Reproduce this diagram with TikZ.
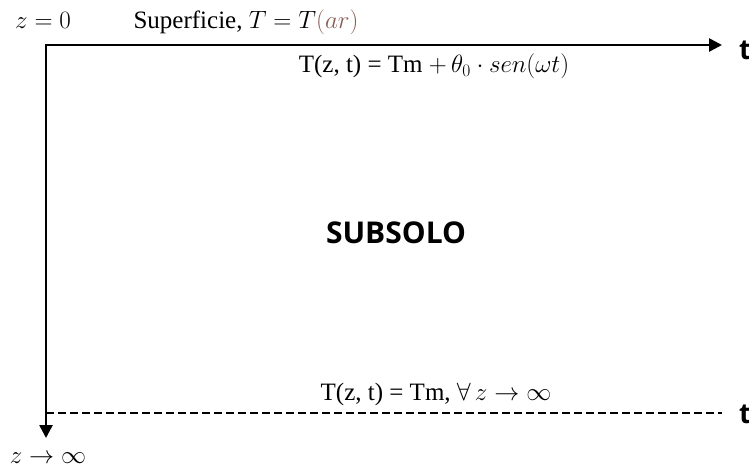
\documentclass[tikz,border=0pt]{standalone}
\usepackage{fix-cm}
\usepackage{fontspec}
\setmainfont{Liberation Serif}
\newfontfamily\boldsans{Open Sans}
\usepackage{tikz}
\usetikzlibrary{arrows.meta, positioning}
\definecolor{AxisBlack}{HTML}{000000}
\definecolor{ArBrown}{HTML}{8A5E52}

\begin{document}
\begin{tikzpicture}[
  x=1pt, y=-1pt,
  axis/.style={line width=2.6pt, color=AxisBlack,
    -{Triangle[length=13pt, width=13pt]}},
  limit/.style={line width=2pt, color=AxisBlack, dash pattern=on 8pt off 4pt},
  lbl/.style={inner sep=0pt, font=\fontsize{25}{30}\selectfont},
  eqn/.style={inner sep=0pt, font=\fontsize{25}{30}\selectfont},
  tlbl/.style={inner sep=0pt, anchor=west, font=\boldsans\bfseries\fontsize{28}{32}\selectfont}
]
\useasboundingbox (0,0) rectangle (749,470);

\coordinate (origin) at (46,45);
\coordinate (tend) at (722,45);
\coordinate (zend) at (46,438);
\coordinate (dstart) at (46,413);
\coordinate (dend) at (722,413);

\node[lbl, anchor=base] (zzero) at (43,29) {$z=0$};
\node[lbl, anchor=base] (surf) at (246,29)
  {Superficie, $T=T\textcolor{ArBrown}{(ar)}$};
\node[eqn, anchor=base] (topeq) at (434,73)
  {T(z, t) = Tm $+\,\theta_0\cdot sen(\omega t)$};
\node[inner sep=0pt, font=\boldsans\bfseries\fontsize{30}{34}\selectfont]
  (soil) at (396,233) {SUBSOLO};
\node[eqn, anchor=base] (boteq) at (436,400)
  {T(z, t) = Tm, $\forall\, z\rightarrow\infty$};
\node[lbl, anchor=base] (zinf) at (48,463) {$z\rightarrow\infty$};
\node[tlbl] (ttop) at (739,50) {t};
\node[tlbl] (tbot) at (739,414) {t};

% Arrows
\draw[axis] ([xshift=-1.3pt]origin) -- (tend);
\draw[axis] ([yshift=-1.3pt]origin) -- (zend);
\draw[limit] (dstart) -- (dend);

\end{tikzpicture}
\end{document}
